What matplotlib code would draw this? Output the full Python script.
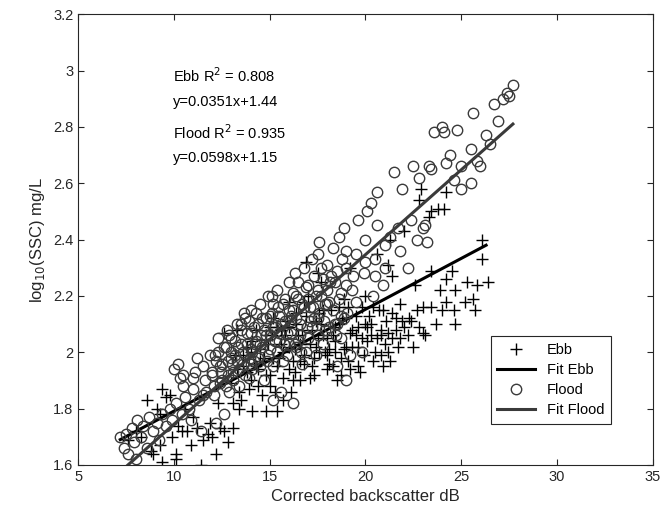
import numpy as np
import matplotlib
matplotlib.use('Agg')
import matplotlib.pyplot as plt
from matplotlib.ticker import FormatStrFormatter

plt.rcParams['font.family'] = ['Liberation Sans', 'DejaVu Sans']

# Flood points (corrected backscatter dB, log10 SSC)
flood_x = [7.2, 7.4, 7.5, 7.6, 7.8, 7.9, 8.0, 8.1, 8.3, 8.4, 8.6, 8.7, 8.9, 9.1, 9.2, 9.4, 9.6, 9.8, 9.9,
           10.0, 10.2, 10.3, 10.5, 10.1, 10.4, 10.6, 10.8, 10.9, 11.0, 11.1, 11.2, 11.3, 11.5, 11.6, 11.7, 11.9, 12.0, 11.4, 12.2, 12.6,
           12.1, 12.3, 12.4, 12.5, 12.7, 12.8, 12.9, 13.0, 13.1, 13.2, 13.3, 13.4, 13.5, 13.6, 13.7, 13.8, 13.9, 14.0, 14.0,
           14.1, 14.2, 14.3, 14.4, 14.5, 14.6, 14.7, 14.8, 14.9, 15.0, 15.1, 15.2, 15.3, 15.4, 15.5, 15.6, 15.7, 15.8, 15.9, 16.0, 15.2, 16.2,
           16.1, 16.2, 16.3, 16.4, 16.5, 16.6, 16.7, 16.8, 16.9, 17.0, 17.1, 17.2, 17.3, 17.4, 17.5, 17.6, 17.7, 17.8, 17.9, 18.0,
           18.1, 18.3, 18.4, 18.6, 18.7, 18.9, 19.0, 19.2, 19.3, 19.5, 19.6, 19.8, 19.9, 20.1, 20.3, 20.0, 19.0, 18.5, 20.4, 20.5,
           20.6, 20.6, 21.3, 21.5, 21.7, 21.9, 22.4, 22.5, 22.7, 23.0, 23.2, 23.3, 21.0, 21.8, 22.2, 20.9, 22.8,
           23.4, 24.0, 24.1, 24.2, 24.6, 24.8, 25.0, 25.0, 25.5, 25.5, 25.6, 25.8, 26.0, 26.3, 26.5, 26.7, 26.9, 27.2, 27.4, 27.5, 27.7, 23.6, 24.4, 23.1]
flood_y = [1.70, 1.66, 1.71, 1.64, 1.73, 1.68, 1.62, 1.76, 1.70, 1.74, 1.66, 1.77, 1.72, 1.75, 1.69, 1.78, 1.74, 1.80, 1.76,
           1.94, 1.96, 1.91, 1.88, 1.82, 1.78, 1.84, 1.80, 1.76, 1.87, 1.93, 1.98, 1.83, 1.95, 1.90, 1.86, 1.99, 1.92, 1.72, 1.75, 1.78,
           1.88, 2.00, 1.95, 1.90, 2.02, 1.97, 1.86, 2.05, 1.93, 1.99, 2.10, 1.88, 2.03, 1.96, 2.12, 2.07, 1.91, 2.15, 2.01,
           1.94, 2.09, 2.04, 1.98, 2.17, 2.12, 1.90, 2.06, 2.20, 2.01, 2.14, 1.95, 2.09, 2.22, 2.04, 1.86, 2.17, 2.11, 1.99, 2.25, 1.83, 1.82,
           2.07, 2.15, 2.28, 2.02, 2.19, 2.10, 1.96, 2.30, 2.23, 2.05, 2.16, 2.33, 2.12, 1.99, 2.35, 2.39, 2.20, 2.26, 2.08, 2.31,
           2.18, 2.37, 2.25, 2.41, 2.13, 2.44, 2.30, 1.99, 2.22, 2.35, 2.47, 2.00, 2.28, 2.50, 2.53, 2.40, 1.90, 1.95, 2.20, 2.33,
           2.57, 2.45, 2.41, 2.64, 2.44, 2.58, 2.47, 2.66, 2.40, 2.44, 2.39, 2.66, 2.30, 2.36, 2.30, 2.24, 2.62,
           2.65, 2.80, 2.78, 2.67, 2.61, 2.79, 2.66, 2.58, 2.72, 2.60, 2.85, 2.68, 2.66, 2.77, 2.74, 2.88, 2.82, 2.90, 2.92, 2.91, 2.95, 2.78, 2.70, 2.45]

# Flood points in the dense middle of the cloud
flood_core_x = [12.0, 12.2, 12.4, 12.6, 12.8, 13.0, 13.2, 13.4, 13.6, 13.8, 14.0, 14.2, 14.4, 14.6, 14.8, 15.0, 15.2, 15.4,
                15.6, 15.8, 16.0, 16.2, 16.4, 16.6, 16.8, 17.0, 17.2, 17.4, 17.6, 17.8, 18.0, 18.2, 18.4, 18.6, 18.8, 19.0,
                12.1, 12.3, 12.5, 12.7, 12.9, 13.1, 13.3, 13.5, 13.7, 13.9, 14.1, 14.3, 14.5, 14.7, 14.9, 15.1, 15.3, 15.5,
                15.7, 15.9, 16.1, 16.3, 16.5, 16.7, 16.9, 17.1, 17.3, 17.5, 17.7, 17.9, 18.1, 18.3, 18.5, 18.7, 18.9,
                12.15, 12.45, 12.75, 13.05, 13.35, 13.65, 13.95, 14.25, 14.55, 14.85, 15.15, 15.45, 15.75, 16.05, 16.35,
                16.65, 16.95, 17.25, 17.55, 17.85, 18.15, 18.45, 18.75, 19.05, 19.35,
                13.0, 13.5, 14.0, 14.5, 15.0, 15.5, 16.0, 16.5, 17.0, 17.5, 18.0, 18.5, 19.0, 19.5, 20.0,
                11.0, 11.5, 10.5, 20.5, 21.0]
flood_core_y = [1.93, 1.97, 1.89, 2.02, 1.92, 1.98, 2.04, 1.94, 2.00, 2.03, 2.07, 1.97, 2.10, 2.02, 2.12, 2.06, 2.17, 2.00,
                2.10, 2.19, 2.03, 2.21, 2.12, 2.06, 2.16, 2.24, 2.09, 2.20, 2.14, 2.03, 2.22, 2.27, 2.10, 2.19, 2.33, 2.24,
                1.85, 2.05, 1.96, 1.88, 2.06, 1.90, 1.97, 2.08, 1.92, 2.11, 2.00, 2.14, 1.95, 2.08, 1.99, 2.20, 2.04, 2.13,
                1.97, 2.07, 2.13, 2.03, 2.25, 2.17, 2.00, 2.11, 2.27, 2.06, 2.30, 2.17, 2.09, 2.15, 2.29, 2.05, 2.12,
                1.99, 1.93, 2.08, 1.96, 2.02, 2.14, 1.98, 2.03, 2.06, 1.97, 2.09, 2.16, 2.03, 2.11, 2.20,
                2.00, 2.09, 2.16, 2.22, 2.11, 2.25, 2.06, 2.21, 2.14, 2.27,
                2.00, 2.10, 1.96, 2.03, 2.13, 2.07, 2.15, 2.04, 2.19, 2.12, 2.17, 2.10, 2.36, 2.18, 2.32,
                1.91, 1.85, 1.92, 2.27, 2.38]

# Ebb points
ebb_x = [7.6, 8.0, 8.3, 8.6, 8.8, 8.9, 9.1, 9.3, 9.3, 9.4, 9.4, 9.6, 9.8, 9.9, 10.1, 10.1, 10.2, 10.4, 10.6, 10.7, 10.9, 11.0,
         11.2, 11.4, 11.5, 11.8, 11.9, 12.0, 12.2, 12.4, 12.6, 12.8, 13.1, 12.6, 13.3, 12.3,
         13.1, 13.4, 13.4, 13.6, 13.8, 14.0, 14.1, 14.3, 14.5, 14.6, 14.8, 14.9, 15.0, 15.2, 15.4, 15.5, 15.7, 15.7, 15.8, 16.0,
         16.2, 16.3, 16.4, 16.6, 16.7, 16.8, 16.9, 17.0, 17.1, 17.3, 17.4, 17.6, 17.7, 17.8, 18.0, 18.1, 18.2, 18.3, 18.4, 18.6,
         18.7, 18.9, 19.0, 19.1, 19.3, 19.5, 19.6, 19.8, 16.0, 17.5,
         20.1, 20.3, 20.6, 20.6, 20.8, 20.9, 21.2, 21.2, 21.3, 21.4, 21.4, 21.6, 21.8, 21.8, 22.0, 22.2, 22.4, 22.6, 22.7, 22.8,
         22.9, 23.0, 23.0, 23.1, 23.3, 23.4, 23.4, 23.4, 23.7, 23.8, 23.9, 24.0, 24.1, 24.2, 24.2, 24.2, 24.5, 24.6, 24.7, 24.7,
         25.2, 25.3, 25.6, 25.7, 25.8, 26.1, 26.1, 26.4, 20.0, 19.2]
ebb_y = [1.69, 1.72, 1.70, 1.83, 1.65, 1.64, 1.80, 1.78, 1.67, 1.87, 1.61, 1.84, 1.85, 1.70, 1.62, 1.64, 1.74, 1.72, 1.80, 1.72, 1.67, 1.77,
         1.73, 1.60, 1.69, 1.71, 1.75, 1.70, 1.64, 1.73, 1.72, 1.68, 1.73, 2.07, 2.08, 1.82,
         1.82, 1.86, 1.80, 1.95, 2.02, 1.90, 1.79, 2.08, 1.97, 1.85, 1.79, 2.03, 1.92, 2.12, 1.79, 1.98, 1.83, 1.91, 2.06, 1.94,
         1.90, 2.01, 2.14, 1.90, 2.08, 1.96, 2.32, 2.20, 2.03, 1.98, 2.11, 2.00, 2.25, 2.06, 1.94, 1.96, 2.15, 1.95, 2.04, 2.10,
         1.92, 2.19, 2.02, 1.97, 2.08, 2.13, 1.95, 2.05, 2.18, 2.28,
         2.04, 2.10, 2.05, 2.35, 1.99, 2.15, 2.07, 2.31, 2.40, 2.27, 2.05, 2.08, 2.17, 2.05, 2.43, 2.06, 2.11, 2.24, 2.15, 2.54,
         2.58, 2.16, 2.07, 2.06, 2.48, 2.29, 2.16, 2.50, 2.10, 2.51, 2.22, 2.15, 2.51, 2.57, 2.26, 2.18, 2.29, 2.15, 2.22, 2.10,
         2.18, 2.25, 2.19, 2.15, 2.24, 2.40, 2.33, 2.25, 2.20, 2.30]

# Ebb points in the dense middle
ebb_core_x = [13.0, 13.3, 13.6, 13.9, 14.2, 14.5, 14.8, 15.1, 15.4, 15.7, 16.0, 16.3, 16.6, 16.9, 17.2, 17.5, 17.8, 18.1,
              18.4, 18.7, 19.0, 19.3, 19.6, 19.9, 20.2, 20.5, 20.8, 21.1, 21.4, 21.7, 22.0,
              13.2, 13.5, 13.8, 14.1, 14.4, 14.7, 15.0, 15.3, 15.6, 15.9, 16.2, 16.5, 16.8, 17.1, 17.4, 17.7, 18.0,
              18.3, 18.6, 18.9, 19.2, 19.5, 19.8, 20.1, 20.4, 20.7, 21.0, 21.3, 22.3, 22.8,
              14.0, 14.4, 14.8, 15.2, 15.6, 16.0, 16.4, 16.8, 17.2, 17.6, 18.0, 18.4, 18.8, 19.2, 19.6, 20.0, 20.4,
              20.8, 21.2, 21.6, 15.0, 16.1, 17.3, 18.5, 19.7, 20.9, 14.3, 15.4, 16.6, 17.9, 19.1, 20.3, 21.9, 22.5]
ebb_core_y = [1.89, 1.94, 1.99, 1.87, 1.96, 2.01, 1.92, 2.06, 1.95, 2.00, 2.09, 1.93, 2.03, 2.13, 1.95, 2.05, 2.15, 2.01,
              2.09, 1.98, 2.12, 2.02, 2.09, 1.99, 2.13, 2.00, 2.08, 2.11, 2.14, 2.02, 2.09,
              1.99, 1.83, 1.93, 2.04, 1.88, 1.98, 2.09, 1.86, 2.03, 2.11, 1.97, 2.06, 2.18, 1.91, 2.02, 2.10, 1.99,
              2.06, 2.16, 2.01, 1.94, 2.06, 2.16, 2.09, 1.97, 2.15, 2.03, 1.97, 2.12, 2.09,
              2.00, 1.94, 2.06, 1.98, 2.08, 2.02, 2.10, 1.99, 2.08, 2.14, 2.05, 2.00, 2.12, 2.07, 2.02, 2.10, 2.16,
              2.06, 2.00, 2.12, 1.88, 1.86, 1.92, 1.90, 1.93, 1.95, 1.95, 2.09, 1.97, 2.00, 2.16, 2.06, 2.11, 2.02]

# fitted lines, end points as drawn
ebb_fit_x = [7.2, 26.3]
ebb_fit_y = [1.69, 2.38]
flood_fit_x = [7.6, 27.7]
flood_fit_y = [1.60, 2.81]

annot = ['Ebb R$^2$ = 0.808', 'y=0.0351x+1.44', 'Flood R$^2$ = 0.935', 'y=0.0598x+1.15']

fig = plt.figure(figsize=(6.62, 5.24), dpi=100)
ax = fig.add_axes([0.118, 0.1126, 0.868, 0.8604])

ebb_all_x = ebb_x + ebb_core_x
ebb_all_y = ebb_y + ebb_core_y
flood_all_x = flood_x + flood_core_x
flood_all_y = flood_y + flood_core_y

ax.plot(ebb_all_x, ebb_all_y, '+', color='black', markersize=9, markeredgewidth=1.0, label='Ebb')
ax.plot(ebb_fit_x, ebb_fit_y, '-', color='black', linewidth=2.2, label='Fit Ebb')
ax.plot(flood_all_x, flood_all_y, 'o', color='#3a3a3a', markerfacecolor='none', markersize=7.5,
        markeredgewidth=1.0, label='Flood')
ax.plot(flood_fit_x, flood_fit_y, '-', color='#3a3a3a', linewidth=2.2, label='Fit Flood')

ax.set_xlim(5, 35)
ax.set_ylim(1.6, 3.2)
ax.set_xticks(np.arange(5, 36, 5))
ax.set_yticks(np.arange(1.6, 3.21, 0.2))
ax.yaxis.set_major_formatter(FormatStrFormatter('%g'))
ax.tick_params(direction='in', top=True, right=True, labelsize=10.5, colors='#262626', length=4)
for s in ax.spines.values():
    s.set_color('#262626')
    s.set_linewidth(0.8)

ax.set_xlabel('Corrected backscatter dB', fontsize=12, color='#262626')
ax.set_ylabel('log$_{10}$(SSC) mg/L', fontsize=12, color='#262626')

ty = [2.98, 2.89, 2.78, 2.69]
for t, yy in zip(annot, ty):
    ax.text(9.95, yy, t, fontsize=10.5, va='center', ha='left', color='black')

leg = ax.legend(loc='lower right', bbox_to_anchor=(0.927, 0.091), borderaxespad=0, fontsize=10.5,
                fancybox=False, edgecolor='#262626', framealpha=1, borderpad=0.45,
                handlelength=2.6, labelspacing=0.42)
leg.get_frame().set_linewidth(0.8)

fig.savefig('out.png', dpi=100)
